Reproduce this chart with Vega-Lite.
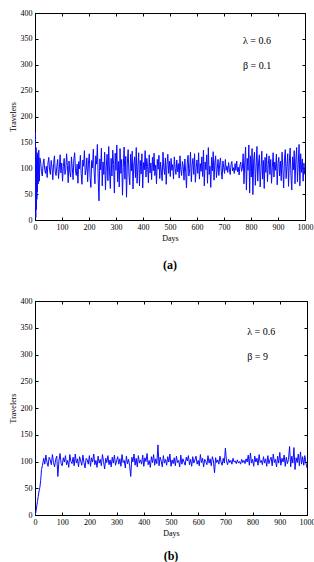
{
  "$schema": "https://vega.github.io/schema/vega-lite/v6.json",
  "padding": {"left": 8, "top": 8, "right": 0, "bottom": 0},
  "spacing": 24,
  "config": {
    "view": {"stroke": "black", "strokeWidth": 1},
    "axis": {
      "grid": false, "domainColor": "black", "tickColor": "black", "labelColor": "black",
      "titleColor": "black", "labelFont": "Liberation Serif", "labelFontSize": 8,
      "titleFont": "Liberation Serif", "titleFontSize": 8, "titleFontWeight": "normal",
      "tickSize": -3, "labelPadding": 6, "titlePadding": 3, "labelOverlap": false, "format": "d"
    },
    "title": {"font": "Liberation Serif", "fontSize": 12, "fontWeight": "bold", "color": "black"}
  },
  "datasets": {
    "a": [
      {"day":0,"travelers":100},{"day":1,"travelers":170},{"day":2,"travelers":60},{"day":3,"travelers":5},{"day":4,"travelers":140},{"day":5,"travelers":20},{"day":6,"travelers":120},{"day":7,"travelers":40},{"day":8,"travelers":130},{"day":9,"travelers":55},{"day":10,"travelers":125},{"day":12,"travelers":70},{"day":14,"travelers":135},{"day":16,"travelers":75},{"day":18,"travelers":120},
      {"day":21,"travelers":112},{"day":24,"travelers":94},{"day":27,"travelers":85},{"day":30,"travelers":108},{"day":33,"travelers":118},{"day":36,"travelers":97},{"day":39,"travelers":90},{"day":42,"travelers":104},{"day":45,"travelers":82},{"day":48,"travelers":110},
      {"day":51,"travelers":121},{"day":54,"travelers":96},{"day":57,"travelers":88},{"day":60,"travelers":115},{"day":63,"travelers":102},{"day":66,"travelers":78},{"day":69,"travelers":109},{"day":72,"travelers":124},{"day":75,"travelers":93},{"day":78,"travelers":86},
      {"day":81,"travelers":104},{"day":84,"travelers":117},{"day":87,"travelers":80},{"day":90,"travelers":98},{"day":93,"travelers":126},{"day":96,"travelers":91},{"day":99,"travelers":110},{"day":102,"travelers":75},{"day":105,"travelers":103},{"day":108,"travelers":119},
      {"day":111,"travelers":88},{"day":114,"travelers":97},{"day":117,"travelers":128},{"day":120,"travelers":105},{"day":123,"travelers":72},{"day":126,"travelers":114},{"day":129,"travelers":92},{"day":132,"travelers":83},{"day":135,"travelers":122},{"day":138,"travelers":101},
      {"day":141,"travelers":78},{"day":144,"travelers":118},{"day":147,"travelers":130},{"day":150,"travelers":94},{"day":153,"travelers":86},{"day":156,"travelers":108},{"day":159,"travelers":71},{"day":162,"travelers":113},{"day":165,"travelers":99},{"day":168,"travelers":125},
      {"day":171,"travelers":90},{"day":174,"travelers":69},{"day":177,"travelers":116},{"day":180,"travelers":104},{"day":183,"travelers":134},{"day":186,"travelers":87},{"day":189,"travelers":96},{"day":192,"travelers":120},{"day":195,"travelers":74},{"day":198,"travelers":110},
      {"day":201,"travelers":128},{"day":204,"travelers":82},{"day":207,"travelers":63},{"day":210,"travelers":115},{"day":213,"travelers":101},{"day":216,"travelers":137},{"day":219,"travelers":92},{"day":222,"travelers":70},{"day":225,"travelers":124},{"day":228,"travelers":108},
      {"day":231,"travelers":146},{"day":234,"travelers":80},{"day":237,"travelers":37},{"day":240,"travelers":118},{"day":243,"travelers":97},{"day":246,"travelers":139},{"day":249,"travelers":66},{"day":252,"travelers":112},{"day":255,"travelers":88},{"day":258,"travelers":131},
      {"day":261,"travelers":58},{"day":264,"travelers":104},{"day":267,"travelers":127},{"day":270,"travelers":76},{"day":273,"travelers":142},{"day":276,"travelers":93},{"day":279,"travelers":61},{"day":282,"travelers":119},{"day":285,"travelers":85},{"day":288,"travelers":135},
      {"day":291,"travelers":107},{"day":294,"travelers":52},{"day":297,"travelers":129},{"day":300,"travelers":96},{"day":303,"travelers":145},{"day":306,"travelers":74},{"day":309,"travelers":113},{"day":312,"travelers":64},{"day":315,"travelers":138},{"day":318,"travelers":90},
      {"day":321,"travelers":117},{"day":324,"travelers":48},{"day":327,"travelers":102},{"day":330,"travelers":141},{"day":333,"travelers":79},{"day":336,"travelers":123},{"day":339,"travelers":44},{"day":342,"travelers":110},{"day":345,"travelers":136},{"day":348,"travelers":87},
      {"day":351,"travelers":68},{"day":354,"travelers":127},{"day":357,"travelers":95},{"day":360,"travelers":133},{"day":363,"travelers":60},{"day":366,"travelers":108},{"day":369,"travelers":122},{"day":372,"travelers":82},{"day":375,"travelers":140},{"day":378,"travelers":71},
      {"day":381,"travelers":104},{"day":384,"travelers":130},{"day":387,"travelers":66},{"day":390,"travelers":115},{"day":393,"travelers":89},{"day":396,"travelers":128},{"day":399,"travelers":62},{"day":402,"travelers":111},{"day":405,"travelers":97},{"day":408,"travelers":134},
      {"day":411,"travelers":83},{"day":414,"travelers":119},{"day":417,"travelers":103},{"day":420,"travelers":72},{"day":423,"travelers":126},{"day":426,"travelers":91},{"day":429,"travelers":110},{"day":432,"travelers":78},{"day":435,"travelers":121},{"day":438,"travelers":95},
      {"day":441,"travelers":129},{"day":444,"travelers":86},{"day":447,"travelers":106},{"day":450,"travelers":70},{"day":453,"travelers":117},{"day":456,"travelers":98},{"day":459,"travelers":125},{"day":462,"travelers":80},{"day":465,"travelers":112},{"day":468,"travelers":93},
      {"day":471,"travelers":76},{"day":474,"travelers":131},{"day":477,"travelers":101},{"day":480,"travelers":88},{"day":483,"travelers":120},{"day":486,"travelers":69},{"day":489,"travelers":108},{"day":492,"travelers":127},{"day":495,"travelers":90},{"day":498,"travelers":114},
      {"day":501,"travelers":84},{"day":504,"travelers":119},{"day":507,"travelers":96},{"day":510,"travelers":107},{"day":513,"travelers":79},{"day":516,"travelers":122},{"day":519,"travelers":100},{"day":522,"travelers":88},{"day":525,"travelers":116},{"day":528,"travelers":93},
      {"day":531,"travelers":109},{"day":534,"travelers":81},{"day":537,"travelers":124},{"day":540,"travelers":97},{"day":543,"travelers":86},{"day":546,"travelers":113},{"day":549,"travelers":104},{"day":552,"travelers":77},{"day":555,"travelers":118},{"day":558,"travelers":92},
      {"day":561,"travelers":62},{"day":564,"travelers":110},{"day":567,"travelers":125},{"day":570,"travelers":85},{"day":573,"travelers":99},{"day":576,"travelers":131},{"day":579,"travelers":74},{"day":582,"travelers":106},{"day":585,"travelers":119},{"day":588,"travelers":88},
      {"day":591,"travelers":128},{"day":594,"travelers":73},{"day":597,"travelers":101},{"day":600,"travelers":116},{"day":603,"travelers":90},{"day":606,"travelers":130},{"day":609,"travelers":79},{"day":612,"travelers":109},{"day":615,"travelers":94},{"day":618,"travelers":122},
      {"day":621,"travelers":84},{"day":624,"travelers":135},{"day":627,"travelers":66},{"day":630,"travelers":112},{"day":633,"travelers":97},{"day":636,"travelers":126},{"day":639,"travelers":71},{"day":642,"travelers":140},{"day":645,"travelers":88},{"day":648,"travelers":104},
      {"day":651,"travelers":63},{"day":654,"travelers":121},{"day":657,"travelers":95},{"day":660,"travelers":132},{"day":663,"travelers":77},{"day":666,"travelers":110},{"day":669,"travelers":124},{"day":672,"travelers":82},{"day":675,"travelers":99},{"day":678,"travelers":117},
      {"day":681,"travelers":86},{"day":684,"travelers":108},{"day":687,"travelers":120},{"day":690,"travelers":93},{"day":693,"travelers":79},{"day":696,"travelers":114},{"day":699,"travelers":101},{"day":702,"travelers":90},{"day":705,"travelers":117},{"day":708,"travelers":96},
      {"day":711,"travelers":104},{"day":714,"travelers":92},{"day":717,"travelers":111},{"day":720,"travelers":98},{"day":723,"travelers":88},{"day":726,"travelers":107},{"day":729,"travelers":113},{"day":732,"travelers":95},{"day":735,"travelers":101},{"day":738,"travelers":90},
      {"day":741,"travelers":109},{"day":744,"travelers":96},{"day":747,"travelers":114},{"day":750,"travelers":93},{"day":753,"travelers":102},{"day":756,"travelers":87},{"day":759,"travelers":106},{"day":762,"travelers":112},{"day":765,"travelers":94},{"day":768,"travelers":100},
      {"day":771,"travelers":128},{"day":774,"travelers":70},{"day":777,"travelers":112},{"day":780,"travelers":141},{"day":783,"travelers":58},{"day":786,"travelers":119},{"day":789,"travelers":96},{"day":792,"travelers":145},{"day":795,"travelers":52},{"day":798,"travelers":124},
      {"day":801,"travelers":83},{"day":804,"travelers":138},{"day":807,"travelers":49},{"day":810,"travelers":116},{"day":813,"travelers":131},{"day":816,"travelers":67},{"day":819,"travelers":104},{"day":822,"travelers":142},{"day":825,"travelers":75},{"day":828,"travelers":110},
      {"day":831,"travelers":126},{"day":834,"travelers":64},{"day":837,"travelers":98},{"day":840,"travelers":133},{"day":843,"travelers":79},{"day":846,"travelers":115},{"day":849,"travelers":61},{"day":852,"travelers":121},{"day":855,"travelers":92},{"day":858,"travelers":128},
      {"day":861,"travelers":74},{"day":864,"travelers":107},{"day":867,"travelers":124},{"day":870,"travelers":88},{"day":873,"travelers":117},{"day":876,"travelers":71},{"day":879,"travelers":102},{"day":882,"travelers":130},{"day":885,"travelers":83},{"day":888,"travelers":112},
      {"day":891,"travelers":96},{"day":894,"travelers":127},{"day":897,"travelers":68},{"day":900,"travelers":109},{"day":903,"travelers":121},{"day":906,"travelers":85},{"day":909,"travelers":114},{"day":912,"travelers":76},{"day":915,"travelers":131},{"day":918,"travelers":99},
      {"day":921,"travelers":62},{"day":924,"travelers":118},{"day":927,"travelers":136},{"day":930,"travelers":80},{"day":933,"travelers":104},{"day":936,"travelers":128},{"day":939,"travelers":65},{"day":942,"travelers":112},{"day":945,"travelers":139},{"day":948,"travelers":86},
      {"day":951,"travelers":58},{"day":954,"travelers":122},{"day":957,"travelers":97},{"day":960,"travelers":134},{"day":963,"travelers":70},{"day":966,"travelers":116},{"day":969,"travelers":140},{"day":972,"travelers":74},{"day":975,"travelers":108},{"day":978,"travelers":146},
      {"day":981,"travelers":66},{"day":984,"travelers":128},{"day":987,"travelers":92},{"day":990,"travelers":118},{"day":993,"travelers":75},{"day":996,"travelers":110},{"day":999,"travelers":88}
    ],
    "b": [
      {"day":0,"travelers":0},{"day":3,"travelers":5},{"day":6,"travelers":15},{"day":9,"travelers":25},{"day":12,"travelers":35},{"day":15,"travelers":45},{"day":18,"travelers":52},{"day":21,"travelers":65},{"day":24,"travelers":85},{"day":27,"travelers":92},{"day":30,"travelers":100},
      {"day":32,"travelers":106},{"day":36,"travelers":95},{"day":40,"travelers":112},{"day":44,"travelers":99},{"day":48,"travelers":91},{"day":52,"travelers":108},{"day":56,"travelers":103},{"day":60,"travelers":94},{"day":64,"travelers":113},{"day":68,"travelers":98},
      {"day":72,"travelers":90},{"day":76,"travelers":104},{"day":80,"travelers":110},{"day":84,"travelers":72},{"day":88,"travelers":101},{"day":92,"travelers":115},{"day":96,"travelers":96},{"day":100,"travelers":92},{"day":104,"travelers":107},{"day":108,"travelers":99},
      {"day":112,"travelers":111},{"day":116,"travelers":94},{"day":120,"travelers":102},{"day":124,"travelers":89},{"day":128,"travelers":113},{"day":132,"travelers":100},{"day":136,"travelers":96},{"day":140,"travelers":108},{"day":144,"travelers":92},{"day":148,"travelers":114},
      {"day":152,"travelers":97},{"day":156,"travelers":105},{"day":160,"travelers":90},{"day":164,"travelers":109},{"day":168,"travelers":101},{"day":172,"travelers":93},{"day":176,"travelers":112},{"day":180,"travelers":98},{"day":184,"travelers":88},{"day":188,"travelers":106},
      {"day":192,"travelers":103},{"day":196,"travelers":95},{"day":200,"travelers":111},{"day":204,"travelers":91},{"day":208,"travelers":107},{"day":212,"travelers":99},{"day":216,"travelers":114},{"day":220,"travelers":94},{"day":224,"travelers":102},{"day":228,"travelers":89},
      {"day":232,"travelers":110},{"day":236,"travelers":97},{"day":240,"travelers":104},{"day":244,"travelers":92},{"day":248,"travelers":113},{"day":252,"travelers":100},{"day":256,"travelers":86},{"day":260,"travelers":106},{"day":264,"travelers":98},{"day":268,"travelers":111},
      {"day":272,"travelers":94},{"day":276,"travelers":103},{"day":280,"travelers":90},{"day":284,"travelers":108},{"day":288,"travelers":97},{"day":292,"travelers":112},{"day":296,"travelers":93},{"day":300,"travelers":101},{"day":304,"travelers":109},{"day":308,"travelers":95},
      {"day":312,"travelers":105},{"day":316,"travelers":91},{"day":320,"travelers":113},{"day":324,"travelers":98},{"day":328,"travelers":102},{"day":332,"travelers":88},{"day":336,"travelers":110},{"day":340,"travelers":96},{"day":344,"travelers":104},{"day":348,"travelers":92},
      {"day":352,"travelers":72},{"day":356,"travelers":108},{"day":360,"travelers":99},{"day":364,"travelers":114},{"day":368,"travelers":93},{"day":372,"travelers":106},{"day":376,"travelers":90},{"day":380,"travelers":111},{"day":384,"travelers":97},{"day":388,"travelers":103},
      {"day":392,"travelers":95},{"day":396,"travelers":112},{"day":400,"travelers":91},{"day":404,"travelers":107},{"day":408,"travelers":100},{"day":412,"travelers":115},{"day":416,"travelers":94},{"day":420,"travelers":102},{"day":424,"travelers":89},{"day":428,"travelers":109},
      {"day":432,"travelers":98},{"day":436,"travelers":113},{"day":440,"travelers":93},{"day":444,"travelers":105},{"day":448,"travelers":96},{"day":452,"travelers":131},{"day":456,"travelers":92},{"day":460,"travelers":108},{"day":464,"travelers":101},{"day":468,"travelers":90},
      {"day":472,"travelers":111},{"day":476,"travelers":97},{"day":480,"travelers":104},{"day":484,"travelers":93},{"day":488,"travelers":109},{"day":492,"travelers":99},{"day":496,"travelers":114},{"day":500,"travelers":91},{"day":504,"travelers":103},{"day":508,"travelers":96},
      {"day":512,"travelers":107},{"day":516,"travelers":92},{"day":520,"travelers":110},{"day":524,"travelers":98},{"day":528,"travelers":102},{"day":532,"travelers":90},{"day":536,"travelers":112},{"day":540,"travelers":95},{"day":544,"travelers":105},{"day":548,"travelers":99},
      {"day":552,"travelers":93},{"day":556,"travelers":108},{"day":560,"travelers":101},{"day":564,"travelers":111},{"day":568,"travelers":94},{"day":572,"travelers":104},{"day":576,"travelers":91},{"day":580,"travelers":109},{"day":584,"travelers":97},{"day":588,"travelers":103},
      {"day":592,"travelers":110},{"day":596,"travelers":95},{"day":600,"travelers":102},{"day":604,"travelers":92},{"day":608,"travelers":113},{"day":612,"travelers":98},{"day":616,"travelers":106},{"day":620,"travelers":90},{"day":624,"travelers":104},{"day":628,"travelers":100},
      {"day":632,"travelers":94},{"day":636,"travelers":111},{"day":640,"travelers":97},{"day":644,"travelers":105},{"day":648,"travelers":92},{"day":652,"travelers":109},{"day":656,"travelers":101},{"day":660,"travelers":79},{"day":664,"travelers":107},{"day":668,"travelers":98},
      {"day":672,"travelers":103},{"day":676,"travelers":95},{"day":680,"travelers":110},{"day":684,"travelers":99},{"day":688,"travelers":93},{"day":692,"travelers":106},{"day":696,"travelers":97},{"day":700,"travelers":125},{"day":704,"travelers":101},{"day":708,"travelers":94},
      {"day":712,"travelers":104},{"day":716,"travelers":98},{"day":720,"travelers":102},{"day":724,"travelers":95},{"day":728,"travelers":106},{"day":732,"travelers":99},{"day":736,"travelers":101},{"day":740,"travelers":96},{"day":744,"travelers":103},{"day":748,"travelers":97},
      {"day":752,"travelers":100},{"day":756,"travelers":95},{"day":760,"travelers":104},{"day":764,"travelers":98},{"day":768,"travelers":102},{"day":772,"travelers":96},{"day":776,"travelers":105},{"day":780,"travelers":99},{"day":784,"travelers":112},{"day":788,"travelers":93},
      {"day":792,"travelers":116},{"day":796,"travelers":97},{"day":800,"travelers":104},{"day":804,"travelers":91},{"day":808,"travelers":110},{"day":812,"travelers":99},{"day":816,"travelers":106},{"day":820,"travelers":93},{"day":824,"travelers":113},{"day":828,"travelers":98},
      {"day":832,"travelers":102},{"day":836,"travelers":94},{"day":840,"travelers":109},{"day":844,"travelers":97},{"day":848,"travelers":105},{"day":852,"travelers":91},{"day":856,"travelers":111},{"day":860,"travelers":96},{"day":864,"travelers":103},{"day":868,"travelers":108},
      {"day":872,"travelers":92},{"day":876,"travelers":114},{"day":880,"travelers":98},{"day":884,"travelers":104},{"day":888,"travelers":90},{"day":892,"travelers":110},{"day":896,"travelers":97},{"day":900,"travelers":117},{"day":904,"travelers":93},{"day":908,"travelers":106},
      {"day":912,"travelers":99},{"day":916,"travelers":112},{"day":920,"travelers":91},{"day":924,"travelers":108},{"day":928,"travelers":96},{"day":932,"travelers":104},{"day":936,"travelers":128},{"day":940,"travelers":90},{"day":944,"travelers":110},{"day":948,"travelers":97},
      {"day":952,"travelers":126},{"day":956,"travelers":85},{"day":960,"travelers":107},{"day":964,"travelers":98},{"day":968,"travelers":114},{"day":972,"travelers":92},{"day":976,"travelers":118},{"day":980,"travelers":95},{"day":984,"travelers":109},{"day":988,"travelers":93},
      {"day":992,"travelers":111},{"day":996,"travelers":97},{"day":1000,"travelers":88}
    ],
    "la": [
      {"day":770,"travelers":346,"label":"λ = 0.6"},
      {"day":770,"travelers":298,"label":"β = 0.1"}
    ],
    "lb": [
      {"day":780,"travelers":342,"label":"λ = 0.6"},
      {"day":780,"travelers":295,"label":"β = 9"}
    ]
  },
  "vconcat": [
    {
      "width": 270,
      "height": 207,
      "title": {"text": "(a)", "orient": "bottom", "offset": 18},
      "resolve": {"axis": {"x": "independent", "y": "independent"}},
      "layer": [
        {
          "data": {"name": "a"},
          "mark": {"type": "line", "color": "#0a0aff", "strokeWidth": 1, "clip": true},
          "encoding": {
            "x": {"field": "day", "type": "quantitative", "scale": {"domain": [0, 1000], "nice": false},
                  "axis": {"title": "Days", "values": [0,100,200,300,400,500,600,700,800,900,1000], "labelFlush": false}},
            "y": {"field": "travelers", "type": "quantitative", "scale": {"domain": [0, 400], "nice": false},
                  "axis": {"title": "Travelers", "values": [0,50,100,150,200,250,300,350,400]}}
          }
        },
        {
          "data": {"name": "la"},
          "mark": {"type": "text", "align": "left", "baseline": "middle", "font": "Liberation Serif", "fontSize": 10, "color": "black"},
          "encoding": {
            "x": {"field": "day", "type": "quantitative",
                  "axis": {"orient": "top", "title": null, "labels": false, "values": [0,100,200,300,400,500,600,700,800,900,1000]}},
            "y": {"field": "travelers", "type": "quantitative",
                  "axis": {"orient": "right", "title": null, "labels": false, "values": [0,50,100,150,200,250,300,350,400]}},
            "text": {"field": "label"}
          }
        }
      ]
    },
    {
      "width": 272,
      "height": 214,
      "title": {"text": "(b)", "orient": "bottom", "offset": 14},
      "resolve": {"axis": {"x": "independent", "y": "independent"}},
      "layer": [
        {
          "data": {"name": "b"},
          "mark": {"type": "line", "color": "#0a0aff", "strokeWidth": 1, "clip": true},
          "encoding": {
            "x": {"field": "day", "type": "quantitative", "scale": {"domain": [0, 1000], "nice": false},
                  "axis": {"title": "Days", "values": [0,100,200,300,400,500,600,700,800,900,1000], "labelFlush": false}},
            "y": {"field": "travelers", "type": "quantitative", "scale": {"domain": [0, 400], "nice": false},
                  "axis": {"title": "Travelers", "values": [0,50,100,150,200,250,300,350,400]}}
          }
        },
        {
          "data": {"name": "lb"},
          "mark": {"type": "text", "align": "left", "baseline": "middle", "font": "Liberation Serif", "fontSize": 10, "color": "black"},
          "encoding": {
            "x": {"field": "day", "type": "quantitative",
                  "axis": {"orient": "top", "title": null, "labels": false, "values": [0,100,200,300,400,500,600,700,800,900,1000]}},
            "y": {"field": "travelers", "type": "quantitative",
                  "axis": {"orient": "right", "title": null, "labels": false, "values": [0,50,100,150,200,250,300,350,400]}},
            "text": {"field": "label"}
          }
        }
      ]
    }
  ]
}
